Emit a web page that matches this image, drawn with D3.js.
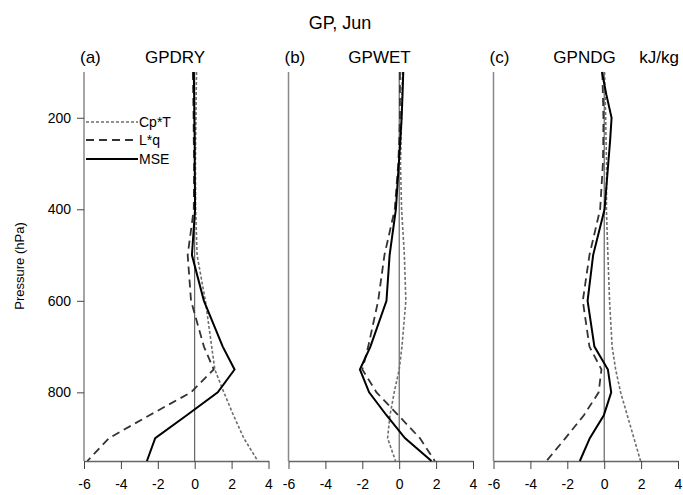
<!DOCTYPE html>
<html><head><meta charset="utf-8">
<script src="https://cdn.jsdelivr.net/npm/d3@7"></script>
<style>body{margin:0;background:#fff}svg{display:block;font-family:"Liberation Sans",Arial,sans-serif}</style>
</head><body>
<svg id="c" width="683" height="495"></svg>
<script>
const levels = [100,150,200,250,300,400,500,600,700,750,800,850,900,950];
const panels = ["GPDRY","GPWET","GPNDG"];
const panelTags = ["(a)","(b)","(c)"];
const seriesNames = ["Cp*T","L*q","MSE"];
const xTicks = [-6,-4,-2,0,2,4];
const yTicks = [200,400,600,800];
// GPDRY
const dryCpT = [0.10,0.08,0.07,0.05,0.04,0.05,0.13,0.58,0.92,1.09,1.58,2.10,2.66,3.42];
const dryLq  = [-0.10,-0.08,-0.06,-0.05,-0.03,-0.05,-0.38,-0.20,0.50,1.03,-0.20,-2.45,-4.64,-5.82];
const dryMSE = [-0.05,-0.03,-0.02,0.00,0.00,0.02,-0.15,0.50,1.52,2.16,1.25,-0.43,-2.14,-2.59];
// GPWET
const wetCpT = [0.18,0.15,0.13,0.10,0.07,0.13,0.28,0.36,0.15,0.00,-0.27,-0.50,-0.63,-0.20];
const wetLq  = [0.04,0.04,0.04,0.00,-0.05,-0.24,-0.80,-1.14,-1.68,-2.00,-1.23,-0.05,1.12,1.93];
const wetMSE = [0.22,0.18,0.13,0.06,-0.02,-0.18,-0.52,-0.69,-1.56,-2.13,-1.63,-0.69,0.31,1.75];
// GPNDG
const ndgCpT = [0.02,0.05,0.08,0.10,0.13,0.12,0.20,0.29,0.43,0.62,0.89,1.25,1.61,1.97];
const ndgLq  = [-0.10,-0.07,-0.04,-0.05,-0.07,-0.22,-0.80,-1.16,-0.80,-0.15,-0.30,-1.10,-2.10,-3.13];
const ndgMSE = [-0.12,0.12,0.40,0.32,0.22,0.02,-0.60,-0.90,-0.53,0.20,0.38,-0.02,-0.78,-1.32];

const data = [[dryCpT,dryLq,dryMSE],[wetCpT,wetLq,wetMSE],[ndgCpT,ndgLq,ndgMSE]];
const styles = [
  {stroke:"#6e6e6e", width:1.6, dash:"3,2"},
  {stroke:"#333333", width:1.8, dash:"8,5"},
  {stroke:"#000000", width:2, dash:null}
];

const FONT = '"Liberation Sans",Arial,sans-serif';
const svg = d3.select("#c");
const plotTop = 72, plotBottom = 461;
const lefts = [84, 288.5, 493.5];
const pw = 184.5;
const y = d3.scaleLinear().domain([100,950]).range([plotTop,plotBottom]);

svg.append("text").attr("x",340).attr("y",29).attr("text-anchor","middle")
  .attr("font-size",18).text("GP, Jun");

lefts.forEach((L,i)=>{
  const x = d3.scaleLinear().domain([-6,4]).range([L,L+pw]);
  const g = svg.append("g");
  g.append("line").attr("x1",L).attr("x2",L).attr("y1",plotTop).attr("y2",plotBottom)
    .attr("stroke","#888").attr("stroke-width",1.5);
  g.append("line").attr("x1",x(0)).attr("x2",x(0)).attr("y1",plotTop).attr("y2",plotBottom)
    .attr("stroke","#444").attr("stroke-width",1);
  const ax = g.append("g").attr("transform",`translate(0,${plotBottom})`)
    .call(d3.axisBottom(x).tickValues(xTicks).tickFormat(d=>String(d))
      .tickSize(8).tickSizeOuter(0).tickPadding(10));
  ax.select(".domain").attr("stroke","#666").attr("stroke-width",1.5);
  ax.selectAll(".tick line").attr("stroke","#444").attr("stroke-width",1);
  ax.selectAll("text").attr("font-size",14).attr("fill","#000").attr("font-family",FONT);
  if(i===0){
    const ay = g.append("g").attr("transform",`translate(${L},0)`)
      .call(d3.axisLeft(y).tickValues(yTicks).tickFormat(d=>String(d)).tickSize(7).tickPadding(6));
    ay.select(".domain").remove();
    ay.selectAll(".tick line").attr("stroke","#444");
    ay.selectAll("text").attr("font-size",14).attr("fill","#000").attr("font-family",FONT);
  }
  data[i].forEach((vals,k)=>{
    const line = d3.line().x(d=>x(d)).y((d,j)=>y(levels[j]));
    const st = styles[k];
    g.append("path").attr("d",line(vals)).attr("fill","none")
      .attr("stroke",st.stroke).attr("stroke-width",st.width)
      .attr("stroke-dasharray",st.dash);
  });
  svg.append("text").attr("x",L-4).attr("y",63).attr("font-size",17).text(panelTags[i]);
  svg.append("text").attr("x",L+91).attr("y",63).attr("text-anchor","middle")
    .attr("font-size",17).text(panels[i]);
});

svg.append("text").attr("x",659).attr("y",63).attr("text-anchor","middle")
  .attr("font-size",17).text("kJ/kg");

svg.append("text").attr("transform","translate(24,266) rotate(-90)")
  .attr("text-anchor","middle").attr("font-size",13).text("Pressure (hPa)");

const legY = [122,140,159];
seriesNames.forEach((n,k)=>{
  const st = styles[k];
  svg.append("line").attr("x1",86).attr("x2",138).attr("y1",legY[k]).attr("y2",legY[k])
    .attr("stroke",st.stroke).attr("stroke-width",st.width).attr("stroke-dasharray",st.dash);
  svg.append("text").attr("x",139).attr("y",legY[k]).attr("dy","0.35em")
    .attr("font-size",14).text(n);
});
</script>
</body></html>
